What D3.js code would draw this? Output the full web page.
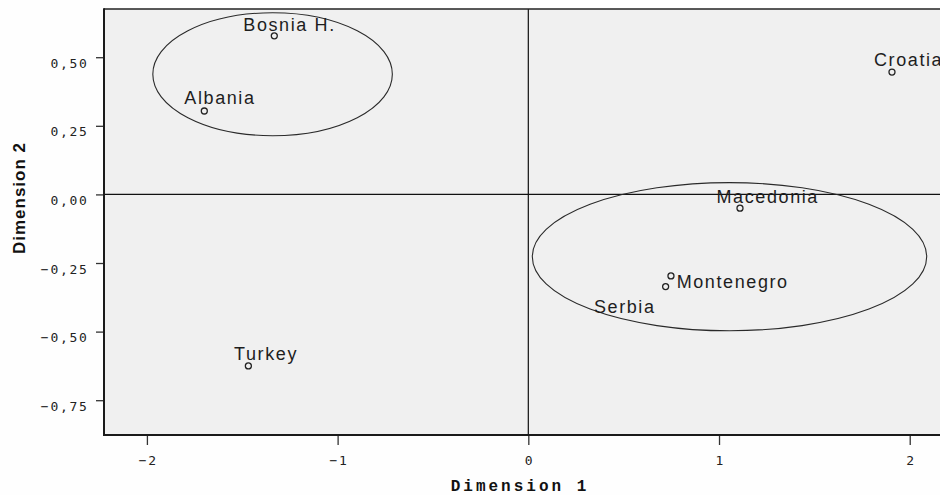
<!DOCTYPE html>
<html>
<head>
<meta charset="utf-8">
<script src="https://cdn.jsdelivr.net/npm/d3@7"></script>
<style>
    body { margin: 0; background: #fefefe; }
    svg { display: block; }
</style>
</head>
<body>
<div id="chart"></div>
<script>
// DATA
const countries = ["Bosnia H.", "Albania", "Croatia", "Macedonia", "Montenegro", "Serbia", "Turkey"];
const dim1 = [-1.332, -1.699, 1.907, 1.110, 0.748, 0.720, -1.468];
const dim2 = [0.578, 0.304, 0.446, -0.050, -0.297, -0.336, -0.625];

// cluster ellipses (data units)
const clusterCx = [-1.341, 1.055];
const clusterCy = [0.438, -0.227];
const clusterRx = [0.628, 1.034];
const clusterRy = [0.224, 0.270];

const xTicks = [-2, -1, 0, 1, 2];
const yTicks = [0.5, 0.25, 0, -0.25, -0.5, -0.75];

// label placement relative to the point (px)
const labelOffset = {
    "Bosnia H.": [-31, -4.5],
    "Albania": [-20, -6.7],
    "Croatia": [-18, -6.3],
    "Macedonia": [-23.5, -5.6],
    "Montenegro": [5.7, 11.7],
    "Serbia": [-71.7, 26.6],
    "Turkey": [-14.3, -6]
};

const W = 940, H = 495;
const margin = { top: 9, left: 104 };
const width = 841, height = 426;

const svg = d3.select("#chart").append("svg")
    .attr("width", W)
    .attr("height", H);

const g = svg.append("g")
    .attr("transform", `translate(${margin.left}, ${margin.top})`);

const x = d3.scaleLinear().domain([-2.225, 2.185]).range([0, width]);
const y = d3.scaleLinear().domain([0.6757, -0.8768]).range([0, height]);

// plot background
g.append("rect")
    .attr("width", width)
    .attr("height", height)
    .attr("fill", "#f0f0f0");

// reference lines at 0
g.append("line")
    .attr("x1", x(0)).attr("x2", x(0))
    .attr("y1", 0).attr("y2", height)
    .attr("stroke", "#111").attr("stroke-width", 1.2);
g.append("line")
    .attr("x1", 0).attr("x2", width)
    .attr("y1", y(0)).attr("y2", y(0))
    .attr("stroke", "#111").attr("stroke-width", 1.2);

// ellipses
g.selectAll(".cluster")
    .data(clusterCx)
    .enter().append("ellipse")
    .attr("class", "cluster")
    .attr("cx", (d, i) => x(d))
    .attr("cy", (d, i) => y(clusterCy[i]))
    .attr("rx", (d, i) => x(clusterRx[i]) - x(0))
    .attr("ry", (d, i) => y(0) - y(clusterRy[i]))
    .attr("fill", "none")
    .attr("stroke", "#2a2a2a")
    .attr("stroke-width", 1.1);

// top border
g.append("line")
    .attr("x1", 0).attr("x2", width)
    .attr("y1", 0).attr("y2", 0)
    .attr("stroke", "#222").attr("stroke-width", 1.6);

// AXES
const tickFont = "'DejaVu Sans Mono', monospace";
const fmt = v => d3.format(".2f")(v).replace(".", ",");

const yAxis = d3.axisLeft(y)
    .tickValues(yTicks)
    .tickSize(8)
    .tickPadding(7.5)
    .tickFormat(fmt);

const yAxisGroup = g.append("g").call(yAxis);
yAxisGroup.select(".domain").remove();
yAxisGroup.selectAll(".tick line").attr("stroke", "#333").attr("stroke-width", 1.3);
yAxisGroup.selectAll(".tick text")
    .attr("dy", null)
    .attr("y", 10)
    .style("font-family", tickFont)
    .style("font-size", "13px")
    .style("letter-spacing", "1.7px")
    .attr("fill", "#222");

const xAxis = d3.axisBottom(x)
    .tickValues(xTicks)
    .tickSize(10)
    .tickFormat(d3.format("d"));

const xAxisGroup = g.append("g")
    .attr("transform", `translate(0, ${height})`)
    .call(xAxis);
xAxisGroup.select(".domain").remove();
xAxisGroup.selectAll(".tick line").attr("stroke", "#333").attr("stroke-width", 1.3);
xAxisGroup.selectAll(".tick text")
    .attr("dy", null)
    .attr("y", 30)
    .attr("dx", 0.8)
    .style("font-family", tickFont)
    .style("font-size", "13px")
    .style("letter-spacing", "1.7px")
    .attr("fill", "#222");

g.append("line")
    .attr("x1", 0).attr("x2", 0)
    .attr("y1", -0.8).attr("y2", height + 1)
    .attr("stroke", "#1a1a1a").attr("stroke-width", 2);
g.append("line")
    .attr("x1", -1).attr("x2", width)
    .attr("y1", height).attr("y2", height)
    .attr("stroke", "#1a1a1a").attr("stroke-width", 2.2);

// POINTS
const points = g.selectAll(".pt")
    .data(countries)
    .enter().append("g")
    .attr("class", "pt")
    .attr("transform", (d, i) => `translate(${x(dim1[i])}, ${y(dim2[i])})`);

points.append("circle")
    .attr("r", 3)
    .attr("fill", "none")
    .attr("stroke", "#222")
    .attr("stroke-width", 1.3);

points.append("text")
    .attr("x", d => labelOffset[d][0])
    .attr("y", d => labelOffset[d][1])
    .text(d => d)
    .style("font-family", "'Liberation Sans', Arial, sans-serif")
    .style("font-size", "18px")
    .style("letter-spacing", "1.6px")
    .attr("fill", "#1e1e1e");

// AXIS TITLES
svg.append("text")
    .attr("x", 520)
    .attr("y", 490.5)
    .attr("text-anchor", "middle")
    .text("Dimension 1")
    .style("font-family", "'Liberation Mono', monospace")
    .style("font-weight", "bold")
    .style("font-size", "16px")
    .style("letter-spacing", "3px")
    .attr("fill", "#111");

svg.append("text")
    .attr("transform", "translate(25, 198) rotate(-90)")
    .attr("text-anchor", "middle")
    .text("Dimension 2")
    .style("font-family", "'Liberation Sans', Arial, sans-serif")
    .style("font-weight", "bold")
    .style("font-size", "17px")
    .style("letter-spacing", "1px")
    .attr("fill", "#111");
</script>
</body>
</html>
